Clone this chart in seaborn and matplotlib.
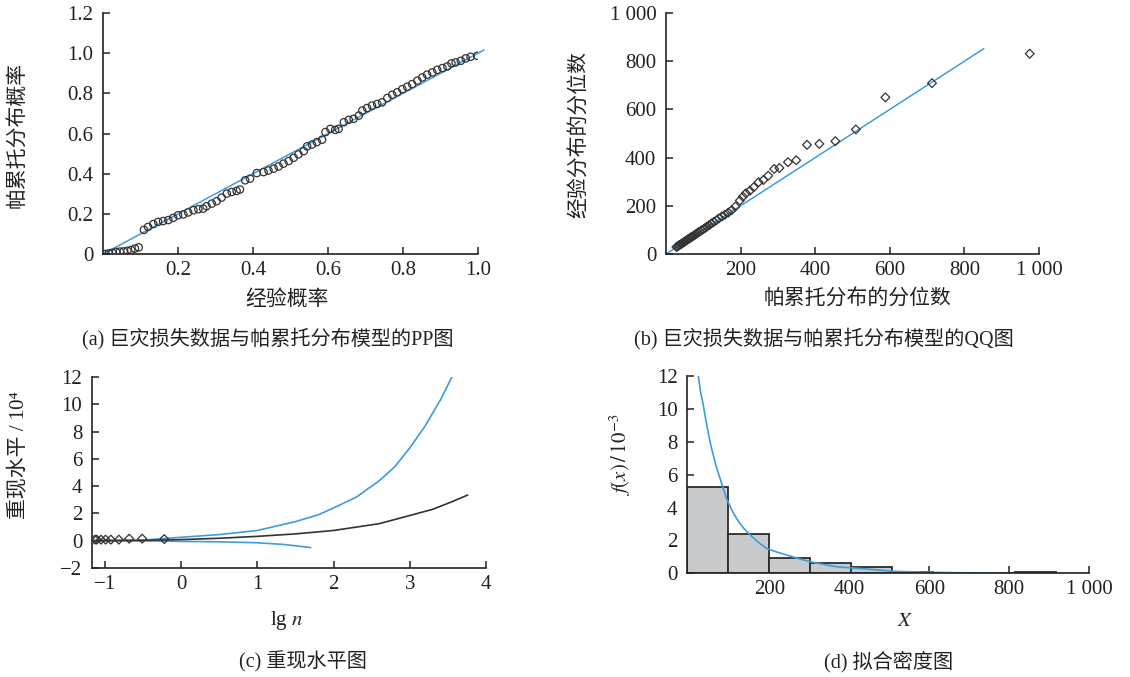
import matplotlib
matplotlib.use('Agg')
import matplotlib.pyplot as plt
import seaborn as sns

# (a) PP plot
pp_emp = [0.005, 0.015, 0.025, 0.035, 0.045, 0.055, 0.065, 0.075, 0.085, 0.095,
          0.109, 0.12, 0.134, 0.147, 0.16, 0.174, 0.187, 0.2, 0.214, 0.227,
          0.241, 0.254, 0.267, 0.276, 0.29, 0.303, 0.316, 0.33, 0.343, 0.356,
          0.365, 0.379, 0.392, 0.41, 0.428, 0.441, 0.455, 0.468, 0.481, 0.495,
          0.508, 0.521, 0.535, 0.544, 0.557, 0.57, 0.584, 0.593, 0.606, 0.619,
          0.628, 0.642, 0.655, 0.668, 0.682, 0.691, 0.704, 0.717, 0.731, 0.744,
          0.758, 0.771, 0.784, 0.798, 0.811, 0.824, 0.838, 0.851, 0.864, 0.878,
          0.891, 0.905, 0.918, 0.929, 0.94, 0.954, 0.967, 0.98, 0.998]
pp_par = [0.0, 0.003, 0.006, 0.01, 0.012, 0.013, 0.016, 0.02, 0.027, 0.033,
          0.12, 0.135, 0.149, 0.16, 0.164, 0.169, 0.18, 0.193, 0.197, 0.207,
          0.218, 0.223, 0.226, 0.238, 0.251, 0.263, 0.281, 0.301, 0.309, 0.314,
          0.321, 0.367, 0.375, 0.403, 0.408, 0.416, 0.425, 0.436, 0.45, 0.463,
          0.479, 0.496, 0.512, 0.536, 0.545, 0.557, 0.569, 0.607, 0.623, 0.618,
          0.623, 0.656, 0.668, 0.673, 0.689, 0.714, 0.727, 0.739, 0.747, 0.755,
          0.777, 0.793, 0.805, 0.821, 0.833, 0.846, 0.863, 0.879, 0.893, 0.904,
          0.917, 0.926, 0.934, 0.949, 0.954, 0.962, 0.974, 0.982, 0.987]
pp_line = [0, 1.016]

# (b) QQ plot
qq_par = [28, 31, 34, 37, 40, 43, 46, 49, 52, 55, 58, 61, 64, 67, 70, 74, 78, 82,
          86, 90, 95, 100, 105, 110, 116, 122, 128, 135, 142, 150, 158, 167, 176,
          186, 198, 206, 214, 225, 235, 248, 261, 274, 290, 304, 327, 349, 378,
          411, 454, 509, 588, 713, 975]
qq_emp = [29, 32, 35, 38, 41, 44, 47, 50, 54, 57, 60, 63, 66, 69, 72, 76, 80, 85,
          89, 93, 98, 103, 108, 114, 120, 127, 133, 140, 148, 156, 163, 172, 182,
          197, 222, 238, 252, 263, 277, 298, 307, 325, 353, 357, 381, 389, 453,
          457, 468, 517, 650, 709, 831]
qq_line = [0, 852]

# (c) return level plot
rl_x = [-1.17, -0.5, 0.0, 0.5, 1.0, 1.5, 2.0, 2.3, 2.6, 3.0, 3.3, 3.55, 3.76]
rl_mid = [0.0, 0.02, 0.08, 0.18, 0.32, 0.5, 0.75, 1.0, 1.25, 1.85, 2.3, 2.85, 3.35]
up_x = [-1.17, -0.5, 0.0, 0.5, 1.0, 1.5, 1.8, 2.0, 2.3, 2.6, 2.8, 3.0, 3.2, 3.4, 3.57]
up_y = [0.02, 0.05, 0.25, 0.45, 0.75, 1.4, 1.9, 2.4, 3.2, 4.4, 5.4, 6.8, 8.4, 10.3, 12.2]
lo_x = [-1.17, -0.5, 0.0, 0.5, 1.0, 1.34, 1.7]
lo_y = [0.0, 0.0, -0.05, -0.08, -0.15, -0.27, -0.5]
obs_x = [-1.13, -1.106, -1.05, -0.99, -0.92, -0.815, -0.68, -0.51, -0.22]
obs_y = [0.08, 0.08, 0.08, 0.08, 0.08, 0.08, 0.15, 0.15, 0.12]

# (d) fitted density
bin_edges = [-5, 97.5, 200, 302.5, 405, 507.5, 610, 712.5, 815, 917.5]
bin_heights = [5.28, 2.38, 0.93, 0.63, 0.36, 0.07, 0.0, 0.0, 0.07]
dens_x = [22, 28, 35, 41, 47, 53, 60, 68, 77, 85, 93, 105, 118, 134, 152, 172,
          193, 218, 243, 272, 302, 335, 368, 405, 443, 476, 510, 555, 600, 650,
          700, 750, 795]
dens_y = [12.13, 11.1, 10.26, 9.4, 8.63, 7.9, 7.21, 6.45, 5.79, 5.15, 4.57, 3.92,
          3.35, 2.8, 2.34, 1.9, 1.52, 1.3, 1.12, 0.9, 0.71, 0.54, 0.40, 0.33, 0.26,
          0.19, 0.12, 0.09, 0.06, 0.04, 0.03, 0.02, 0.01]

BLUE = '#3d9ddc'
INK = '#222222'

sns.set_theme(style='ticks')
plt.rcParams['font.family'] = ['Liberation Serif', 'Noto Sans CJK SC', 'DejaVu Serif']
plt.rcParams['mathtext.fontset'] = 'stix'
plt.rcParams['axes.unicode_minus'] = True

fig = plt.figure(figsize=(11.3, 6.77), dpi=100)
ax_a = fig.add_axes([0.0912, 0.6248, 0.3319, 0.356])
ax_b = fig.add_axes([0.5894, 0.6248, 0.3301, 0.356])
ax_c = fig.add_axes([0.0814, 0.161, 0.3487, 0.2821])
ax_d = fig.add_axes([0.6082, 0.1532, 0.3558, 0.2907])


def style(ax):
    sns.despine(ax=ax)
    for s in ['left', 'bottom']:
        ax.spines[s].set_linewidth(1.2)
        ax.spines[s].set_color(INK)
    ax.tick_params(direction='in', length=5, width=1.1, color=INK,
                   labelsize=15, labelcolor=INK)
    ax.tick_params(axis='x', pad=5)
    ax.tick_params(axis='y', pad=7)


# (a)
sns.lineplot(x=pp_line, y=pp_line, ax=ax_a, color=BLUE, lw=1.1, clip_on=False)
sns.scatterplot(x=pp_emp, y=pp_par, ax=ax_a, marker='o', s=28,
                facecolor='none', edgecolor='#333333', linewidth=0.9, zorder=3)
ax_a.set_xlim(0, 1.0)
ax_a.set_ylim(0, 1.2)
ax_a.set_xticks([0.2, 0.4, 0.6, 0.8, 1.0], ['0.2', '0.4', '0.6', '0.8', '1.0'])
ax_a.set_yticks([0, 0.2, 0.4, 0.6, 0.8, 1.0, 1.2],
                ['0', '0.2', '0.4', '0.6', '0.8', '1.0', '1.2'])
style(ax_a)

# (b)
sns.lineplot(x=qq_line, y=qq_line, ax=ax_b, color=BLUE, lw=1.1)
sns.scatterplot(x=qq_par, y=qq_emp, ax=ax_b, marker='D', s=20,
                facecolor='none', edgecolor='#333333', linewidth=0.9, zorder=3)
ax_b.set_xlim(0, 1000)
ax_b.set_ylim(0, 1000)
ax_b.set_xticks([200, 400, 600, 800, 1000], ['200', '400', '600', '800', '1 000'])
ax_b.set_yticks([0, 200, 400, 600, 800, 1000], ['0', '200', '400', '600', '800', '1 000'])
style(ax_b)

# (c)
sns.lineplot(x=up_x, y=up_y, ax=ax_c, color=BLUE, lw=1.2, sort=False, estimator=None)
sns.lineplot(x=lo_x, y=lo_y, ax=ax_c, color=BLUE, lw=1.2, sort=False, estimator=None)
sns.lineplot(x=rl_x, y=rl_mid, ax=ax_c, color='#333333', lw=1.2, sort=False, estimator=None)
sns.scatterplot(x=obs_x, y=obs_y, ax=ax_c, marker='D', s=20, facecolor='none',
                edgecolor='#333333', linewidth=0.9, zorder=4)
ax_c.set_xlim(-1.168, 4)
ax_c.set_ylim(-2, 12)
ax_c.set_xticks([-1, 0, 1, 2, 3, 4])
ax_c.set_yticks([-2, 0, 2, 4, 6, 8, 10, 12])
style(ax_c)

# (d)
bin_mid = [(bin_edges[i] + bin_edges[i + 1]) / 2 for i in range(len(bin_heights))]
sns.histplot(x=bin_mid, weights=bin_heights, bins=bin_edges, ax=ax_d,
             color='#c9cacc', edgecolor='#2b2b2b', linewidth=1.3, alpha=1)
sns.lineplot(x=dens_x, y=dens_y, ax=ax_d, color=BLUE, lw=1.2, sort=False, estimator=None)
ax_d.set_xlim(-5, 1000)
ax_d.set_ylim(0, 12)
ax_d.set_xticks([200, 400, 600, 800, 1000], ['200', '400', '600', '800', '1 000'])
ax_d.set_yticks([0, 2, 4, 6, 8, 10, 12])
ax_d.set_xlabel('')
ax_d.set_ylabel('')
style(ax_d)

# axis labels
lab = dict(fontsize=15, color=INK, ha='center', va='center')
fig.text(287 / 1130, 1 - 300 / 677, '经验概率', **lab)
fig.text(18 / 1130, 1 - 135 / 677, '帕累托分布概率', rotation=90, **lab)
fig.text(858 / 1130, 1 - 300 / 677, '帕累托分布的分位数', **lab)
fig.text(580 / 1130, 1 - 135 / 677, '经验分布的分位数', rotation=90, **lab)
fig.text(287 / 1130, 1 - 620 / 677, r'lg $n$', **lab)
fig.text(18 / 1130, 1 - 455 / 677, '重现水平 / 10⁴', rotation=90, **lab)
fig.text(905 / 1130, 1 - 622 / 677, r'$X$', **lab)
fig.text(620 / 1130, 1 - 455 / 677, r'$f(x)\,/\,10^{-3}$', rotation=90, **lab)

# captions
cap = dict(fontsize=14.5, color=INK, ha='center', va='center')
fig.text(268 / 1130, 1 - 339 / 677, '(a) 巨灾损失数据与帕累托分布模型的PP图', **cap)
fig.text(824 / 1130, 1 - 339 / 677, '(b) 巨灾损失数据与帕累托分布模型的QQ图', **cap)
fig.text(303 / 1130, 1 - 662 / 677, '(c) 重现水平图', **cap)
fig.text(889 / 1130, 1 - 662 / 677, '(d) 拟合密度图', **cap)

fig.savefig('out.png', dpi=100, facecolor='white')
